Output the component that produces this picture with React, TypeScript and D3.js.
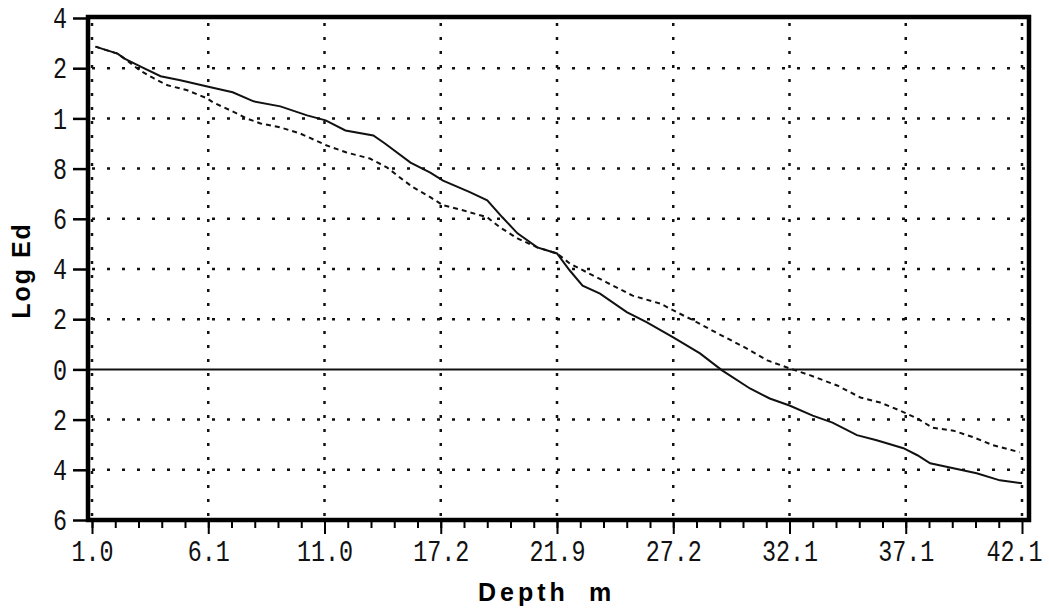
import * as d3 from 'd3';
import { useEffect, useRef } from 'react';

// tick labels as printed on the original plot
const xTickLabels = ['1.0', '6.1', '11.0', '17.2', '21.9', '27.2', '32.1', '37.1', '42.1'];
const yTickValues = [-3, -2, -1, 0, 1, 2, 3, 4, 5, 6, 7];
const yTickLabels = ['6', '4', '2', '0', '2', '4', '6', '8', '1', '2', '4'];

// solid curve (x in grid units between depth labels)
const solidX = [0.03, 0.11, 0.22, 0.28, 0.41, 0.59, 0.76, 1.02, 1.21, 1.39, 1.62, 1.85, 2.01, 2.18, 2.42, 2.52, 2.74, 2.91, 3.02, 3.25, 3.4, 3.53, 3.66, 3.83, 4.0, 4.11, 4.22, 4.37, 4.6, 4.77, 5.0, 5.23, 5.42, 5.66, 5.83, 6.0, 6.2, 6.37, 6.58, 6.75, 6.98, 7.1, 7.21, 7.41, 7.61, 7.81, 8.0];
const solidY = [6.43, 6.37, 6.29, 6.19, 6.04, 5.84, 5.76, 5.62, 5.52, 5.34, 5.24, 5.06, 4.96, 4.76, 4.66, 4.5, 4.12, 3.92, 3.76, 3.53, 3.37, 3.03, 2.71, 2.43, 2.31, 1.97, 1.67, 1.51, 1.14, 0.94, 0.64, 0.32, -0.02, -0.38, -0.58, -0.72, -0.92, -1.06, -1.31, -1.41, -1.57, -1.71, -1.87, -1.97, -2.07, -2.21, -2.27];

// dashed curve
const dashX = [0.03, 0.11, 0.22, 0.28, 0.41, 0.53, 0.65, 0.82, 0.99, 1.04, 1.19, 1.33, 1.45, 1.62, 1.79, 2.02, 2.19, 2.39, 2.54, 2.65, 2.76, 2.91, 3.02, 3.19, 3.4, 3.51, 3.66, 3.83, 4.0, 4.11, 4.26, 4.43, 4.65, 4.89, 5.03, 5.17, 5.38, 5.63, 5.81, 6.0, 6.18, 6.41, 6.61, 6.78, 6.95, 7.1, 7.23, 7.41, 7.58, 7.75, 7.98];
const dashY = [6.43, 6.37, 6.29, 6.19, 5.96, 5.8, 5.66, 5.56, 5.4, 5.32, 5.16, 5.0, 4.9, 4.82, 4.7, 4.46, 4.32, 4.2, 4.02, 3.82, 3.63, 3.43, 3.27, 3.17, 3.03, 2.83, 2.61, 2.43, 2.31, 2.11, 1.93, 1.73, 1.47, 1.31, 1.14, 0.98, 0.72, 0.42, 0.18, 0.02, -0.12, -0.32, -0.56, -0.66, -0.82, -0.98, -1.16, -1.22, -1.35, -1.51, -1.65];

const W = 1049;
const H = 609;
const FONT = '"Liberation Mono", "DejaVu Sans Mono", monospace';
const SQUEEZE = 0.78;

export default function App() {
  const svgRef = useRef<SVGSVGElement>(null);

  useEffect(() => {
    const svg = d3.select(svgRef.current);
    svg.selectAll('*').remove();

    const x = d3.scaleLinear().domain([0, 8]).range([92, 1022]);
    const y = d3.scaleLinear().domain([-3, 7]).range([520, 18]);

    const left = x(0) - 4;
    const right = x(8) + 7;
    const top = y(7) - 1;
    const bottom = y(-3);

    // grid
    const grid = svg.append('g').attr('stroke', '#111').attr('stroke-width', 2.5);
    grid
      .selectAll('line.v')
      .data(d3.range(0, 9))
      .join('line')
      .attr('x1', (d) => x(d))
      .attr('x2', (d) => x(d))
      .attr('y1', top + 6)
      .attr('y2', bottom)
      .attr('stroke-dasharray', '3,11');
    grid
      .selectAll('line.h')
      .data(yTickValues.filter((v) => v !== 0 && v !== 7 && v !== -3))
      .join('line')
      .attr('x1', x(0))
      .attr('x2', right)
      .attr('y1', (d) => y(d))
      .attr('y2', (d) => y(d))
      .attr('stroke-dasharray', '3,12');

    // zero line
    svg
      .append('line')
      .attr('x1', left)
      .attr('x2', right)
      .attr('y1', y(0))
      .attr('y2', y(0))
      .attr('stroke', '#111')
      .attr('stroke-width', 2);

    const solid = solidX.map((d, i) => [x(d), y(solidY[i])] as [number, number]);
    const dashed = dashX.map((d, i) => [x(d), y(dashY[i])] as [number, number]);

    svg
      .append('path')
      .attr('d', d3.line()(dashed))
      .attr('fill', 'none')
      .attr('stroke', '#111')
      .attr('stroke-width', 2)
      .attr('stroke-dasharray', '5,4');
    svg
      .append('path')
      .attr('d', d3.line()(solid))
      .attr('fill', 'none')
      .attr('stroke', '#111')
      .attr('stroke-width', 2);

    // frame
    svg
      .append('rect')
      .attr('x', left)
      .attr('y', top)
      .attr('width', right - left)
      .attr('height', bottom - top)
      .attr('fill', 'none')
      .attr('stroke', '#000')
      .attr('stroke-width', 4.5);

    // x axis: minor then major ticks
    svg
      .append('g')
      .attr('transform', `translate(0,${bottom})`)
      .call(
        d3
          .axisBottom(x)
          .tickValues(d3.range(0, 40).map((i) => i / 5))
          .tickSize(8)
          .tickFormat(() => '')
      )
      .call((g) => g.select('.domain').remove())
      .call((g) => g.selectAll('.tick line').attr('stroke-width', 2));
    svg
      .append('g')
      .attr('transform', `translate(0,${bottom})`)
      .call(
        d3
          .axisBottom(x)
          .tickValues(d3.range(0, 9))
          .tickSize(14)
          .tickPadding(6)
          .tickFormat((d) => xTickLabels[d as number])
      )
      .call((g) => g.select('.domain').remove())
      .call((g) => g.selectAll('.tick line').attr('stroke-width', 2))
      .call((g) =>
        g
          .selectAll('.tick text')
          .attr('font-family', FONT)
          .attr('font-size', 30)
          .attr('fill', '#111')
          .attr('dx', (d) => ((d as number) === 8 ? -8 / SQUEEZE : 0))
          .attr('transform', `scale(${SQUEEZE},1)`)
      );

    // y axis
    svg
      .append('g')
      .attr('transform', `translate(${left},0)`)
      .call(
        d3
          .axisLeft(y)
          .tickValues(yTickValues)
          .tickSize(15)
          .tickPadding(7)
          .tickFormat((d) => yTickLabels[yTickValues.indexOf(d as number)])
      )
      .call((g) => g.select('.domain').remove())
      .call((g) => g.selectAll('.tick line').attr('stroke-width', 2.5))
      .call((g) =>
        g
          .selectAll('.tick text')
          .attr('font-family', FONT)
          .attr('font-size', 30)
          .attr('fill', '#111')
          .attr('x', -21 / SQUEEZE)
          .attr('transform', `scale(${SQUEEZE},1)`)
      );

    // axis titles
    const title = { 'font-family': '"Liberation Sans", Arial, sans-serif', 'font-weight': 'bold', 'font-size': 25 };
    const xt = svg.append('g').attr('fill', '#000');
    xt.append('text')
      .attr('x', 478)
      .attr('y', 601)
      .attr('letter-spacing', 4)
      .text('Depth');
    xt.append('text').attr('x', 589).attr('y', 601).text('m');
    xt.selectAll('text').each(function () {
      const t = d3.select(this);
      Object.entries(title).forEach(([k, v]) => t.attr(k, v));
    });
    const yt = svg
      .append('text')
      .attr('transform', `translate(30,${(top + bottom) / 2 + 2}) rotate(-90)`)
      .attr('text-anchor', 'middle')
      .attr('letter-spacing', 2)
      .attr('fill', '#000')
      .text('Log Ed');
    Object.entries(title).forEach(([k, v]) => yt.attr(k, v));
  }, []);

  return (
    <svg
      ref={svgRef}
      width={W}
      height={H}
      viewBox={`0 0 ${W} ${H}`}
      style={{ position: 'absolute', left: 0, top: 0, background: '#fff' }}
    />
  );
}
